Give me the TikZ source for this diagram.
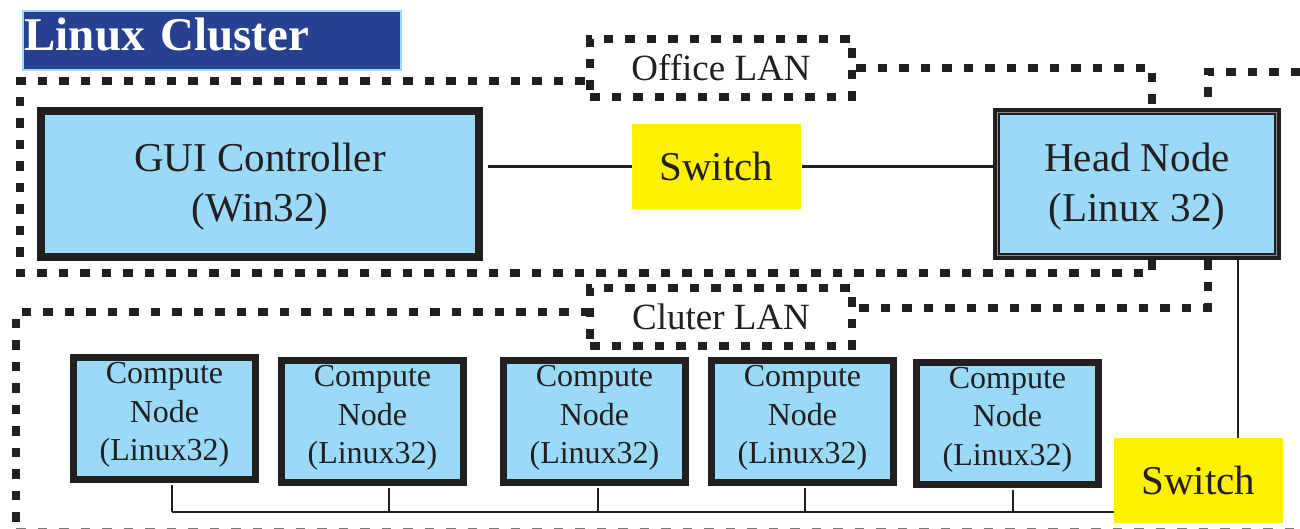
\documentclass[tikz,border=0pt]{standalone}
\usepackage{fontspec}
\setmainfont{Liberation Serif}
\usetikzlibrary{backgrounds}
\definecolor{nodeblue}{HTML}{9BDAF7}
\definecolor{darkline}{HTML}{231F20}
\definecolor{switchyellow}{HTML}{FFF000}
\definecolor{titleblue}{HTML}{26418F}
\definecolor{innergrey}{HTML}{8A8A8A}
\begin{document}
\begin{tikzpicture}[x=1pt,y=-1pt,
  regionline/.style={draw=darkline, line width=8pt, dash pattern=on 9.5pt off 12pt},
  wire/.style={draw=darkline, line width=2.5pt},
  innerline/.style={draw=innergrey, line width=0.9pt},
  guibox/.style={draw=darkline, fill=nodeblue, line width=8pt, outer sep=4pt, inner sep=0pt, minimum width=438pt, minimum height=146pt, align=center, text=darkline, font=\fontsize{41}{50}\selectfont},
  headbox/.style={draw=darkline, fill=nodeblue, line width=7.5pt, outer sep=3.75pt, inner sep=0pt, minimum width=281pt, minimum height=145pt, align=center, text=darkline, font=\fontsize{41}{50}\selectfont},
  computebox/.style={draw=darkline, fill=nodeblue, line width=7pt, outer sep=3.5pt, inner sep=0pt, minimum width=182pt, minimum height=122pt, align=center, text=darkline, font=\fontsize{32}{38.5}\selectfont},
  switchbox/.style={fill=switchyellow, inner sep=0pt, outer sep=0pt, minimum width=169pt, minimum height=85pt, text=darkline, font=\fontsize{41}{50}\selectfont},
  lanbox/.style={regionline, inner sep=0pt, minimum width=262pt, minimum height=58pt, text=darkline, font=\fontsize{37}{44}\selectfont},
  titlebox/.style={draw=nodeblue, fill=titleblue, line width=2pt, inner sep=0pt, minimum width=378pt, minimum height=59pt, text width=378pt, align=left, text=white, font=\bfseries\fontsize{47}{50}\selectfont}
]
\useasboundingbox (0,0) rectangle (1300,529);

% nodes
\node[titlebox] (title) at (212,40.5) {\hspace*{1.5pt}Linux Cluster\rule[-12pt]{0pt}{12pt}};
\node[guibox] (gui) at (260,184) {\rule{0pt}{33pt}GUI Controller\\(Win32)};
\node[headbox] (head) at (1137,184) {\rule{0pt}{33pt}Head Node\\(Linux 32)};
\draw[innerline] ([shift={(5,5)}]head.north west) rectangle ([shift={(-5,-5)}]head.south east);
\node[switchbox] (sw1) at (716.5,166.5) {Switch};
\node[switchbox] (sw2) at (1198.5,480) {Switch};
\node[lanbox] (office) at (721,68) {Office LAN};
\node[lanbox] (cluster) at (721,316.5) {Cluter LAN};
\node[computebox] (c1) at (164.5,418.5) {Compute\\Node\\(Linux32)\rule[-14pt]{0pt}{14pt}};
\node[computebox] (c2) at (372.5,421.5) {Compute\\Node\\(Linux32)\rule[-14pt]{0pt}{14pt}};
\node[computebox] (c3) at (594.5,421.5) {Compute\\Node\\(Linux32)\rule[-14pt]{0pt}{14pt}};
\node[computebox] (c4) at (802.5,421.5) {Compute\\Node\\(Linux32)\rule[-14pt]{0pt}{14pt}};
\node[computebox] (c5) at (1007.5,423) {Compute\\Node\\(Linux32)\rule[-14pt]{0pt}{14pt}};

% helper coordinates
\coordinate (hx) at (1238,0);
\coordinate (ox) at (1152,0);
\coordinate (cx) at (1208,0);
\coordinate (d1) at (172,512);
\coordinate (d2) at (389,512);
\coordinate (d3) at (598,512);
\coordinate (d4) at (805,512);
\coordinate (d5) at (1013,512);

% wires
\draw[wire, shorten <=5pt] (gui.east |- sw1.west) -- (sw1.west);
\draw[wire, shorten <=1pt] (sw1.east) -- (sw1.east -| head.west);
\draw[wire] (head.south -| hx) -- (sw2.north -| hx);
\draw[wire] (d1) -- (d1 -| sw2.west);
\foreach \i in {1,...,5} {
  \draw[wire, shorten <=2pt] (c\i.south -| d\i) -- (d\i);
}

% regions
\begin{scope}[on background layer]
  \fill[white] (0,0) rectangle (1300,529);
  % office LAN
  \draw[regionline] (office.east) -- (ox |- office.east) -- (ox |- head.north);
  \draw[regionline] (ox |- head.south) -- (1152,273) -- (20,273) -- (20,81) -- (590,81);
  % cluster LAN
  \draw[regionline] (1300,72) -- (1208,72) -- (cx |- head.north);
  \draw[regionline] (cx |- head.south) -- (1208,308) -- (852,308);
  \draw[regionline] (590,312) -- (16,312) -- (16,535);
  \draw[regionline, draw=darkline!60] (16,531.5) -- (1300,531.5);
\end{scope}
\end{tikzpicture}
\end{document}
